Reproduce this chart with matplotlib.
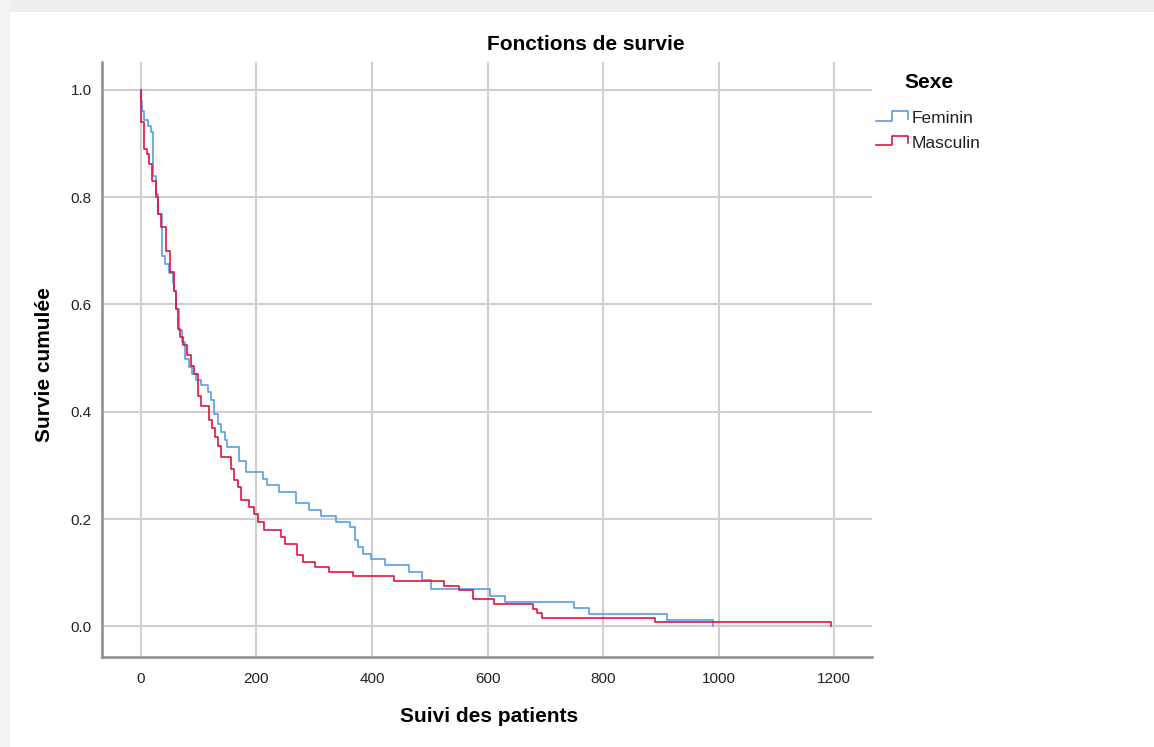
import matplotlib
matplotlib.use('Agg')
import matplotlib.pyplot as plt
from matplotlib.lines import Line2D
from matplotlib.patches import Rectangle

plt.rcParams['font.family'] = ['Liberation Sans', 'DejaVu Sans']

# Kaplan-Meier steps: time of drop and survival after the drop
fem_t = [0, 1, 3, 6.3, 12, 17.4, 22, 26.6, 30.7, 36.5, 42, 49, 55, 58, 61.4,
         66.6, 71.3, 77, 82.8, 88.7, 95, 105, 116, 121.7, 127.5, 133, 139, 145,
         149.6, 170, 183, 211, 218, 239, 268, 291.5, 312, 338, 362, 370, 375.6,
         384, 399, 423, 464, 486, 502, 604, 630, 750, 776, 911, 990]
fem_s = [1.0, 0.98, 0.961, 0.943, 0.933, 0.921, 0.84, 0.806, 0.769, 0.691,
         0.676, 0.658, 0.64, 0.626, 0.592, 0.552, 0.53, 0.499, 0.484, 0.471,
         0.46, 0.449, 0.437, 0.421, 0.396, 0.378, 0.362, 0.347, 0.334, 0.309,
         0.287, 0.275, 0.263, 0.25, 0.229, 0.216, 0.205, 0.194, 0.185, 0.16,
         0.148, 0.135, 0.125, 0.114, 0.101, 0.086, 0.069, 0.057, 0.046, 0.034,
         0.022, 0.011, 0.0]

mas_t = [0, 1, 5.7, 10.4, 15, 19, 26.6, 30.7, 35.3, 43.5, 51, 58, 61.4, 64.3,
         68.3, 74, 80.5, 87, 92.7, 98.4, 104, 117.6, 123.5, 129, 133, 139,
         156.5, 162, 168, 174, 187, 196, 203, 213, 242, 249, 270, 280, 301, 325,
         367, 439, 525, 551, 575, 612, 678, 686, 694, 890, 1194]
mas_s = [1.0, 0.94, 0.89, 0.88, 0.862, 0.831, 0.80, 0.769, 0.744, 0.70, 0.66,
         0.626, 0.592, 0.555, 0.539, 0.524, 0.505, 0.486, 0.471, 0.43, 0.41,
         0.384, 0.369, 0.352, 0.337, 0.315, 0.294, 0.272, 0.26, 0.235, 0.222,
         0.21, 0.194, 0.179, 0.166, 0.154, 0.132, 0.119, 0.11, 0.102, 0.093,
         0.084, 0.076, 0.067, 0.05, 0.041, 0.033, 0.025, 0.016, 0.008, 0.0]

groups = ['Feminin', 'Masculin']
colors = ['#5a9de6', '#e0143f']
xticks = [0, 200, 400, 600, 800, 1000, 1200]
yticks = [0.0, 0.2, 0.4, 0.6, 0.8, 1.0]

W, H = 1154, 747
fig = plt.figure(figsize=(W / 100, H / 100), dpi=100)


def px(x, y):
    return x / W, 1 - y / H


# screenshot border
fig.add_artist(Rectangle((0, 1 - 12 / H), 1, 12 / H, transform=fig.transFigure,
                         color='#efefef', lw=0, zorder=0))
fig.add_artist(Rectangle((0, 0), 10 / W, 1, transform=fig.transFigure,
                         color='#f2f2f2', lw=0, zorder=0))

ax = fig.add_axes([101.7 / W, 1 - 656.7 / H, 770 / W, 594.7 / H])
ax.set_xlim(-67.5, 1264.7)
ax.set_ylim(-0.0567, 1.052)

for t, s, c in [(fem_t, fem_s, colors[0]), (mas_t, mas_s, colors[1])]:
    ax.step(t, s, where='post', color=c, lw=1.2, zorder=3)

ax.set_xticks(xticks)
ax.set_yticks(yticks)
ax.set_yticklabels(['%.1f' % v for v in yticks])
ax.tick_params(length=0, labelsize=11, colors='#222222')
ax.tick_params(axis='x', pad=11)
ax.tick_params(axis='y', pad=7)
ax.grid(True, color='#cfcfcf', lw=1.5)
ax.set_axisbelow(True)
for side in ['top', 'right']:
    ax.spines[side].set_visible(False)
for side in ['left', 'bottom']:
    ax.spines[side].set_color('#8c8c8c')
    ax.spines[side].set_linewidth(1.8)

fig.text(*px(586, 44), 'Fonctions de survie', ha='center', va='center',
         fontsize=15, fontweight='bold')
fig.text(*px(489, 717), 'Suivi des patients', ha='center', va='center',
         fontsize=15, fontweight='bold')
fig.text(*px(45, 365), 'Survie cumulée', ha='center', va='center',
         fontsize=15, fontweight='bold', rotation=90)

# legend
fig.text(*px(929, 82), 'Sexe', ha='center', va='center', fontsize=15,
         fontweight='bold')
for i, (g, c) in enumerate(zip(groups, colors)):
    y0 = 120.5 + i * 24.5
    xs = [876, 891.7, 891.7, 908, 908]
    ys = [y0, y0, y0 - 9.5, y0 - 9.5, y0 - 2]
    fx, fy = zip(*[px(a, b) for a, b in zip(xs, ys)])
    fig.add_artist(Line2D(fx, fy, color=c, lw=1.2, transform=fig.transFigure))
    fig.text(*px(912, y0 - 2), g, ha='left', va='center', fontsize=12.5,
             color='#222222')

fig.savefig('out.png', dpi=100)
